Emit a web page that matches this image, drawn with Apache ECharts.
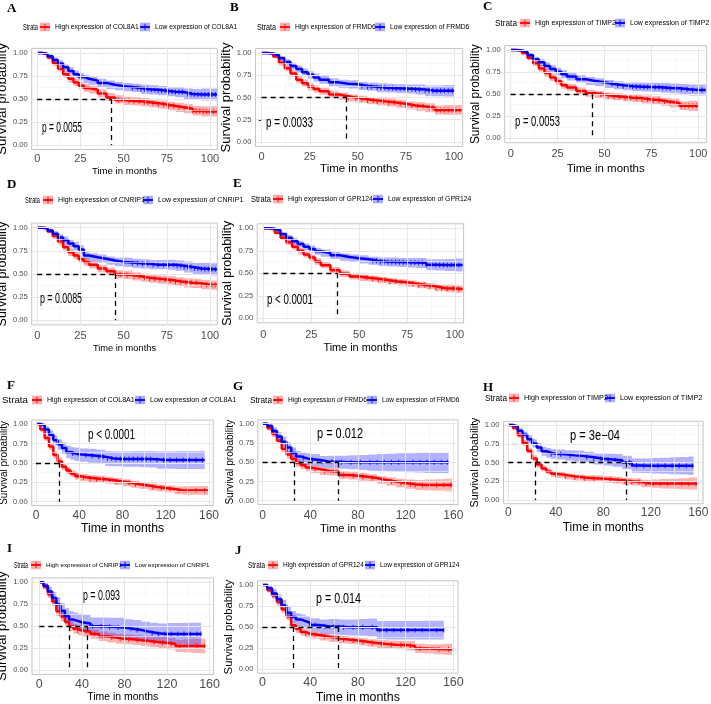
<!DOCTYPE html>
<html><head><meta charset="utf-8">
<script src="https://cdn.jsdelivr.net/npm/echarts@6/dist/echarts.min.js"></script>
<style>html,body{margin:0;padding:0;background:#fff}#c{width:711px;height:704px}</style>
</head><body><div id="c"></div>
<script>
// ================= DATA =================
const X_TICKS_TRAIN = [0,25,50,75,100];
const X_MINOR_TRAIN = [12.5,37.5,62.5,87.5];
const X_TICKS_VALID = [0,40,80,120,160];
const X_MINOR_VALID = [20,60,100,140];
const Y_TICKS = [0,0.25,0.5,0.75,1];
const Y_MINOR = [0.125,0.375,0.625,0.875];

const GENES = ['COL8A1','FRMD6','TIMP2','CNRIP1','GPR124','COL8A1','FRMD6','TIMP2','CNRIP1','GPR124'];
const P_VALUES = ['p = 0.0055','p = 0.0033','p = 0.0053','p = 0.0085','p < 0.0001','p < 0.0001','p = 0.012','p = 3e\u221204','p = 0.093','p = 0.014'];

const T_TRAIN = [0,3,6,9,12,15,18,21,24,27,30,35,40,45,50,55,60,65,70,75,80,85,90,95,100,104];
const T_VALID = [0,4,8,12,16,20,24,28,32,36,40,48,56,64,72,80,88,96,104,112,120,128,136,144,152,156,159];

// Panel A
const A_high    = [1,.99,.95,.89,.83,.77,.72,.68,.645,.62,.60,.56,.515,.49,.48,.475,.465,.455,.44,.425,.41,.395,.37,.365,.365,.365];
const A_high_lo = [1,.98,.93,.86,.80,.735,.68,.64,.605,.58,.56,.52,.475,.45,.435,.43,.42,.41,.395,.38,.36,.345,.32,.31,.31,.31];
const A_high_hi = [1,1,.97,.92,.865,.81,.76,.72,.69,.665,.645,.605,.565,.54,.525,.52,.51,.50,.485,.47,.46,.445,.425,.42,.42,.42];
const A_low     = [1,.99,.965,.925,.885,.845,.805,.77,.74,.72,.70,.675,.655,.64,.63,.62,.605,.60,.59,.58,.575,.555,.55,.55,.55,.55];
const A_low_lo  = [1,.98,.945,.895,.85,.81,.765,.73,.70,.675,.655,.63,.61,.595,.585,.575,.555,.55,.54,.53,.52,.495,.49,.485,.485,.485];
const A_low_hi  = [1,1,.985,.955,.92,.88,.845,.81,.78,.76,.745,.72,.70,.685,.675,.665,.655,.65,.64,.63,.63,.615,.61,.615,.615,.615];
const A_cens_high = [47,50,53,56,59,62,64,67,70,73,76,79,82,85,88,90,92,94,96,98,100,102];
const A_cens_low  = [55,58,60,62,64,66,68,70,72,74,76,78,80,82,84,87,89,91,93,95,97,99,101,103];
const A_median = [43];

// Panel B
const B_high    = [1,.995,.96,.89,.83,.77,.70,.66,.62,.595,.57,.535,.515,.495,.48,.465,.455,.445,.43,.41,.40,.385,.36,.36,.36,.36];
const B_high_lo = [1,.985,.94,.86,.795,.735,.66,.62,.58,.555,.53,.495,.475,.455,.44,.425,.41,.40,.385,.365,.35,.335,.31,.305,.305,.305];
const B_high_hi = [1,1,.98,.92,.865,.81,.74,.70,.66,.635,.61,.575,.555,.535,.52,.505,.50,.49,.475,.455,.45,.435,.41,.415,.415,.415];
const B_low     = [1,.995,.975,.94,.90,.855,.82,.785,.755,.725,.70,.67,.655,.648,.63,.62,.61,.605,.60,.595,.59,.575,.575,.575,.575,null];
const B_low_lo  = [1,.985,.955,.91,.865,.815,.78,.74,.71,.68,.655,.625,.61,.60,.585,.575,.56,.555,.55,.545,.535,.515,.515,.51,.51,null];
const B_low_hi  = [1,1,.99,.965,.93,.89,.86,.825,.795,.77,.745,.715,.70,.695,.675,.665,.66,.655,.65,.645,.645,.635,.635,.64,.64,null];
const B_cens_high = [45,49,52,55,58,60,63,66,69,72,75,78,81,84,87,89,91,93,95,97,99,101,103];
const B_cens_low  = [52,55,57,60,62,64,66,68,70,72,74,76,78,80,82,85,87,89,91,93,95,97,99];
const B_median = [44.2];

// Panel C
const C_high    = [1,.995,.965,.91,.85,.79,.74,.69,.645,.60,.575,.535,.51,.495,.48,.47,.46,.455,.44,.43,.415,.40,.37,.37,.37,null];
const C_high_lo = [1,.985,.945,.88,.815,.755,.70,.65,.605,.56,.535,.495,.47,.455,.44,.43,.42,.41,.395,.385,.37,.35,.32,.31,.31,null];
const C_high_hi = [1,1,.985,.94,.885,.83,.78,.73,.685,.64,.615,.575,.55,.535,.52,.51,.50,.50,.485,.475,.46,.45,.42,.425,.425,null];
const C_low     = [1,.995,.975,.94,.895,.86,.82,.785,.755,.725,.70,.67,.65,.635,.615,.60,.59,.585,.58,.577,.57,.566,.555,.547,.547,.547];
const C_low_lo  = [1,.985,.955,.91,.86,.82,.775,.74,.71,.68,.655,.625,.605,.59,.57,.555,.545,.535,.53,.525,.515,.51,.495,.485,.485,.485];
const C_low_hi  = [1,1,.99,.965,.925,.895,.86,.825,.80,.77,.745,.715,.695,.68,.66,.645,.635,.635,.63,.63,.625,.62,.615,.61,.61,.61];
const C_cens_high = [48,52,55,58,61,64,67,70,73,76,79,82,85,88,91,93,95,97,99];
const C_cens_low  = [54,57,60,63,65,67,69,71,73,75,77,79,81,83,85,88,91,94,97,100,102];
const C_median = [43.5];

// Panel D
const D_high    = [1,.995,.96,.91,.85,.79,.735,.70,.66,.63,.60,.56,.53,.495,.49,.475,.46,.45,.44,.43,.415,.405,.40,.385,.38,.38];
const D_high_lo = [1,.985,.94,.88,.815,.755,.695,.66,.62,.59,.56,.52,.49,.455,.445,.43,.415,.405,.395,.385,.37,.355,.35,.335,.33,.33];
const D_high_hi = [1,1,.98,.94,.885,.83,.775,.74,.70,.67,.64,.60,.57,.54,.535,.52,.505,.495,.485,.475,.465,.455,.45,.435,.43,.43];
const D_low     = [1,.995,.97,.935,.895,.865,.83,.80,.765,.70,.68,.665,.645,.63,.625,.615,.61,.60,.60,.60,.59,.575,.56,.555,.55,.55];
const D_low_lo  = [1,.985,.95,.905,.86,.825,.79,.755,.72,.655,.635,.62,.60,.585,.575,.565,.56,.55,.55,.545,.535,.515,.50,.49,.485,.485];
const D_low_hi  = [1,1,.99,.965,.93,.905,.87,.845,.81,.745,.725,.71,.69,.675,.675,.665,.66,.65,.65,.655,.645,.635,.62,.62,.615,.615];
const D_cens_high = [48,52,56,59,62,65,68,71,74,77,80,83,86,89,92,95,98,101,103];
const D_cens_low  = [55,58,61,64,67,70,73,76,79,81,83,85,87,89,91,93,95,97,99,101,103];
const D_median = [45];

// Panel E
const E_high    = [1,.99,.95,.895,.845,.795,.75,.71,.675,.63,.59,.535,.495,.465,.45,.44,.425,.41,.40,.385,.37,.355,.335,.33,.325,.325];
const E_high_lo = [1,.98,.93,.87,.815,.765,.715,.675,.64,.595,.555,.50,.46,.43,.415,.405,.39,.375,.365,.35,.335,.32,.30,.29,.285,.285];
const E_high_hi = [1,1,.97,.92,.875,.83,.785,.745,.71,.665,.625,.57,.53,.50,.485,.475,.46,.445,.435,.42,.405,.39,.37,.37,.365,.365];
const E_low     = [1,.995,.975,.935,.895,.855,.825,.795,.77,.745,.725,.70,.68,.667,.655,.64,.628,.625,.622,.62,.618,.595,.593,.593,.593,.593];
const E_low_lo  = [1,.985,.955,.91,.865,.82,.79,.755,.73,.705,.685,.66,.64,.625,.61,.595,.58,.575,.57,.565,.56,.535,.53,.525,.52,.52];
const E_low_hi  = [1,1,.99,.96,.925,.89,.86,.83,.81,.785,.765,.74,.72,.71,.70,.685,.675,.675,.67,.67,.67,.655,.655,.66,.665,.665];
const E_cens_high = [50,54,57,60,63,66,69,72,75,78,81,84,87,90,93,96,99,102];
const E_cens_low  = [57,59,61,63,65,67,69,71,73,75,77,79,81,83,85,88,90,92,94,96,98,100,102];
const E_median = [38.6];

// Panel F
const F_high    = [1,.93,.82,.71,.60,.52,.45,.40,.36,.33,.31,.30,.29,.275,.26,.245,.225,.21,.19,.175,.165,.145,.145,.145,.145,.145,.145];
const F_high_lo = [1,.90,.78,.665,.555,.475,.405,.355,.315,.285,.265,.255,.245,.23,.215,.20,.18,.165,.145,.13,.12,.095,.09,.09,.09,.085,.085];
const F_high_hi = [1,.96,.86,.755,.645,.565,.495,.445,.405,.375,.355,.345,.335,.32,.305,.29,.27,.255,.235,.22,.21,.195,.20,.20,.205,.205,.205];
const F_low     = [1,.985,.93,.86,.79,.735,.69,.64,.62,.61,.60,.59,.58,.555,.55,.55,.55,.55,.545,.536,.536,.536,.536,.536,.536,.536,null];
const F_low_lo  = [1,.96,.885,.80,.725,.665,.615,.56,.54,.525,.515,.50,.49,.46,.455,.45,.45,.445,.44,.425,.425,.42,.42,.42,.42,.42,null];
const F_low_hi  = [1,1,.97,.915,.855,.805,.765,.72,.70,.695,.685,.68,.67,.65,.645,.645,.65,.65,.65,.645,.645,.65,.65,.65,.655,.655,null];
const F_cens_high = [30,38,44,50,56,62,68,74,80,86,92,100,108,116,124,132,140,148,156];
const F_cens_low  = [34,40,46,52,58,62,66,70,74,78,82,86,90,94,98,102,106,112,118,124,130,136,142,148,154];
const F_median = [21.5];

// Panel G
const G_high    = [1,.94,.865,.78,.675,.60,.54,.49,.46,.43,.41,.385,.375,.335,.325,.31,.295,.27,.25,.23,.215,.205,.205,.205,.205,.205,.205];
const G_high_lo = [1,.91,.825,.735,.63,.55,.49,.44,.41,.38,.36,.335,.325,.285,.275,.26,.245,.22,.195,.175,.155,.14,.13,.125,.12,.12,.12];
const G_high_hi = [1,.97,.905,.825,.72,.65,.59,.54,.51,.48,.46,.435,.425,.385,.375,.36,.345,.32,.305,.285,.275,.27,.275,.28,.285,.285,.285];
const G_low     = [1,.97,.905,.835,.765,.69,.62,.575,.555,.54,.53,.505,.505,.50,.50,.50,.50,.50,.50,.50,.50,.50,.50,.50,.50,.50,null];
const G_low_lo  = [1,.94,.86,.78,.70,.62,.55,.50,.48,.465,.455,.43,.425,.415,.41,.40,.39,.385,.38,.375,.37,.365,.36,.36,.355,.355,null];
const G_low_hi  = [1,1,.95,.89,.83,.76,.69,.65,.63,.615,.605,.58,.585,.585,.59,.595,.60,.605,.61,.615,.615,.62,.62,.62,.62,.62,null];
const G_cens_high = [44,52,60,68,76,84,92,100,108,116,124,128,134,140,146,152,158];
const G_cens_low  = [34,42,50,58,66,74,82,90,96,102,108,114,120,126,132,138,144,150,155];
const G_median = [26.6,63.5];

// Panel H
const H_high    = [1,.96,.865,.76,.655,.555,.475,.42,.38,.35,.335,.315,.30,.29,.285,.275,.265,.25,.24,.22,.22,.22,.22,.22,.22,.22,.22];
const H_high_lo = [1,.93,.83,.72,.615,.515,.435,.38,.34,.31,.295,.275,.26,.25,.24,.23,.22,.205,.195,.17,.165,.155,.15,.145,.14,.14,.14];
const H_high_hi = [1,.985,.90,.80,.695,.595,.515,.46,.42,.39,.375,.355,.34,.33,.33,.32,.31,.295,.29,.27,.275,.28,.285,.29,.30,.30,.30];
const H_low     = [1,.98,.925,.87,.81,.755,.70,.65,.63,.615,.61,.595,.585,.57,.55,.54,.53,.50,.46,.458,.458,.458,.458,.458,.458,.458,null];
const H_low_lo  = [1,.955,.89,.825,.76,.70,.64,.59,.565,.55,.54,.525,.51,.495,.475,.46,.445,.41,.365,.36,.355,.35,.345,.34,.335,.335,null];
const H_low_hi  = [1,1,.96,.915,.86,.81,.76,.71,.695,.68,.675,.665,.66,.645,.625,.62,.615,.59,.555,.555,.56,.565,.57,.575,.58,.585,null];
const H_cens_high = [40,48,56,64,72,80,86,92,98,104,110,116,122,128,134,140,146,152,158];
const H_cens_low  = [36,44,52,60,66,72,78,84,90,102,108,114,120,126,132,138,144,150,155];
const H_median = [22.5,99];

// Panel I
const I_high    = [1,.95,.865,.78,.67,.61,.55,.50,.47,.45,.435,.41,.385,.37,.355,.35,.34,.33,.32,.31,.30,.275,.275,.275,.275,.275,null];
const I_high_lo = [1,.92,.82,.73,.615,.555,.495,.445,.415,.395,.38,.355,.33,.315,.30,.295,.285,.27,.26,.245,.235,.205,.20,.195,.19,.19,null];
const I_high_hi = [1,.98,.91,.83,.725,.665,.605,.555,.525,.505,.49,.465,.44,.425,.41,.405,.395,.39,.38,.375,.365,.345,.35,.355,.36,.36,null];
const I_low     = [1,.96,.895,.82,.75,.675,.615,.575,.56,.545,.53,.50,.495,.49,.485,.47,.455,.435,.42,.41,.41,.41,.41,.41,.41,null,null];
const I_low_lo  = [1,.92,.84,.75,.67,.59,.525,.48,.46,.445,.43,.40,.39,.385,.375,.36,.34,.32,.305,.295,.29,.29,.285,.285,.285,null,null];
const I_low_hi  = [1,1,.95,.89,.83,.76,.705,.67,.655,.64,.63,.60,.60,.595,.595,.58,.57,.55,.54,.53,.535,.535,.54,.54,.54,null,null];
const I_cens_high = [36,44,52,60,68,76,84,92,100,108,116,124,132,140,148,155];
const I_cens_low  = [40,50,58,66,74,80,86,92,100,106,112,118,124,130,136,142,148,152];
const I_median = [28,45.5];

// Panel J
const J_high    = [1,.94,.875,.80,.71,.625,.52,.475,.44,.42,.405,.385,.365,.35,.34,.325,.31,.298,.29,.286,.275,.245,.24,.235,.234,.234,.234];
const J_high_lo = [1,.91,.835,.755,.665,.58,.475,.43,.395,.375,.36,.34,.32,.305,.295,.28,.265,.25,.24,.235,.22,.19,.185,.175,.17,.17,.17];
const J_high_hi = [1,.97,.915,.845,.755,.67,.565,.52,.485,.465,.45,.43,.41,.395,.385,.37,.355,.345,.34,.335,.33,.30,.295,.295,.30,.30,.30];
const J_low     = [1,.96,.90,.83,.755,.67,.62,.59,.57,.55,.525,.505,.505,.496,.496,.496,.496,.464,.464,.464,.464,.464,.464,.464,.464,null,null];
const J_low_lo  = [1,.92,.85,.77,.69,.60,.55,.515,.49,.47,.445,.42,.415,.405,.40,.395,.39,.355,.35,.35,.35,.35,.35,.35,.35,null,null];
const J_low_hi  = [1,1,.95,.89,.82,.74,.69,.665,.65,.63,.605,.59,.595,.59,.59,.595,.60,.57,.57,.57,.57,.57,.575,.575,.575,null,null];
const J_cens_high = [36,44,52,60,68,76,84,92,100,108,116,124,132,140,148,156];
const J_cens_low  = [44,52,60,68,76,84,92,98,104,110,116,122,128,134,140,146,152];
const J_median = [25.4,63.7];

// ================= LAYOUT =================
const FN = "'Liberation Sans',Arial,sans-serif";
const FR = "'Liberation Sans',Arial,sans-serif";
const FS = "'Liberation Serif','Times New Roman',serif";
const RED = '#FF0000', BLUE = '#0000FF';

const PANELS = [
 {k:'A',T:T_TRAIN,h:[A_high,A_high_lo,A_high_hi],l:[A_low,A_low_lo,A_low_hi],ch:A_cens_high,cl:A_cens_low,med:A_median,
  g:[31.7,48.4,217.3,149.6],x:[-3.2,104.2],xt:X_TICKS_TRAIN,xm:X_MINOR_TRAIN,
  letter:[7,9],strata:[23,27,15],legY:27,red:40,blue:140,legW:82,pp:[42,128,40],
  yNC:7.5,yNW:112,xNC:171,xNW:57,xLC:158.5,xLF:11},
 {k:'B',T:T_TRAIN,h:[B_high,B_high_lo,B_high_hi],l:[B_low,B_low_lo,B_low_hi],ch:B_cens_high,cl:B_cens_low,med:B_median,
  g:[255.5,48.55,462.7,146.45],x:[-3.2,104.5],xt:X_TICKS_TRAIN,xm:X_MINOR_TRAIN,
  letter:[230,8],strata:[257,27,19],legY:27,red:280,blue:375,legW:79,pp:[266,123,47],
  yNC:231,yNW:110,xNC:169,xNW:70,xLC:157,xLF:11},
 {k:'C',T:T_TRAIN,h:[C_high,C_high_lo,C_high_hi],l:[C_low,C_low_lo,C_low_hi],ch:C_cens_high,cl:C_cens_low,med:C_median,
  g:[504.7,45.6,706.7,142.7],x:[-3.2,104.5],xt:X_TICKS_TRAIN,xm:X_MINOR_TRAIN,
  letter:[483,7],strata:[495,23,22],legY:23,red:520,blue:615,legW:79,pp:[515,122,45],
  yNC:476.7,yNW:100,xNC:169.3,xNW:70,xLC:154,xLF:11},
 {k:'D',T:T_TRAIN,h:[D_high,D_high_lo,D_high_hi],l:[D_low,D_low_lo,D_low_hi],ch:D_cens_high,cl:D_cens_low,med:D_median,
  g:[31.7,223.1,217.3,324.9],x:[-3.2,104.2],xt:X_TICKS_TRAIN,xm:X_MINOR_TRAIN,
  letter:[7,184.5],strata:[25,200,15],legY:200,red:43,blue:143,legW:85,pp:[40,299,42],
  yNC:7.5,yNW:105,xNC:349,xNW:55,xLC:336,xLF:11},
 {k:'E',T:T_TRAIN,h:[E_high,E_high_lo,E_high_hi],l:[E_low,E_low_lo,E_low_hi],ch:E_cens_high,cl:E_cens_low,med:E_median,
  g:[257.2,223.8,463.6,322.8],x:[-3.2,104.5],xt:X_TICKS_TRAIN,xm:X_MINOR_TRAIN,
  letter:[233,183.5],strata:[251,199,20],legY:199,red:273,blue:373,legW:83,pp:[267,300,46],
  yNC:232,yNW:105,xNC:348,xNW:66,xLC:335,xLF:11},
 {k:'F',T:T_VALID,h:[F_high,F_high_lo,F_high_hi],l:[F_low,F_low_lo,F_low_hi],ch:F_cens_high,cl:F_cens_low,med:F_median,
  g:[31.7,420.1,213.3,505.6],x:[-4,164],xt:X_TICKS_VALID,xm:X_MINOR_VALID,
  letter:[7,386],strata:[2,400,26],legY:400,red:32,blue:135,legW:86,pp:[88,435,47],
  yNC:6.5,yNW:84,xNC:528,xNW:75,xLC:516,xLF:12},
 {k:'G',T:T_VALID,h:[G_high,G_high_lo,G_high_hi],l:[G_low,G_low_lo,G_low_hi],ch:G_cens_high,cl:G_cens_low,med:G_median,
  g:[257.9,419.85,458.1,504.55],x:[-4,164],xt:X_TICKS_VALID,xm:X_MINOR_VALID,
  letter:[233,386.5],strata:[250,400,22],legY:400,red:273,blue:367,legW:77,pp:[317,434,46],
  yNC:234,yNW:85,xNC:529,xNW:68,xLC:516,xLF:12},
 {k:'H',T:T_VALID,h:[H_high,H_high_lo,H_high_hi],l:[H_low,H_low_lo,H_low_hi],ch:H_cens_high,cl:H_cens_low,med:H_median,
  g:[503.55,421.25,703.05,503.75],x:[-4,164],xt:X_TICKS_VALID,xm:X_MINOR_VALID,
  letter:[483,387.5],strata:[485,398,22],legY:398,red:509,blue:605,legW:82,pp:[570,436,50],
  yNC:476,yNW:90,xNC:528,xNW:73,xLC:513,xLF:12},
 {k:'I',T:T_VALID,h:[I_high,I_high_lo,I_high_hi],l:[I_low,I_low_lo,I_low_hi],ch:I_cens_high,cl:I_cens_low,med:I_median,
  g:[32,577.9,213.6,674.4],x:[-6.9,163.8],xt:X_TICKS_VALID,xm:X_MINOR_VALID,
  letter:[7,549],strata:[14,565,14],legY:565,red:31,blue:120,legW:74,pp:[83,596,37],
  yNC:6,yNW:110,xNC:697.5,xNW:63,xLC:684,xLF:12.5},
 {k:'J',T:T_VALID,h:[J_high,J_high_lo,J_high_hi],l:[J_low,J_low_lo,J_low_hi],ch:J_cens_high,cl:J_cens_low,med:J_median,
  g:[257.5,580.8,458.1,673.2],x:[-4.2,164],xt:X_TICKS_VALID,xm:X_MINOR_VALID,
  letter:[235,551],strata:[248,565,17],legY:565,red:268,blue:365,legW:79,pp:[316,599,45],
  yNC:231,yNW:95,xNC:697.5,xNW:76,xLC:682,xLF:12.5}
];

// ================= HELPERS =================
const mctx = document.createElement('canvas').getContext('2d');
function measure(text, family, weight){ mctx.font = (weight||'') + ' 100px ' + family; return mctx.measureText(text).width / 100; }
function fitSize(text, family, target, weight){ return target / measure(text, family, weight); }

function iconFor(col){
  const svg = '<svg xmlns="http://www.w3.org/2000/svg" width="22" height="20">' +
    '<rect width="22" height="20" fill="' + col + '" fill-opacity="0.32"/>' +
    '<rect y="8" width="22" height="4" fill="' + col + '"/>' +
    '<rect x="10" y="3" width="2" height="14" fill="' + col + '"/></svg>';
  return 'image://data:image/svg+xml;charset=utf-8,' + encodeURIComponent(svg);
}

function pts(T, s){ const out=[]; const n=Math.min(T.length,s.length); for(let i=0;i<n;i++){ if(s[i]!=null) out.push([T[i], s[i]]); } return out; }

function censorPts(T, s, times){
  const line = pts(T, s); const out=[];
  if(!line.length) return out;
  const tEnd = line[line.length-1][0];
  times.forEach(t=>{ if(t>tEnd) return; let v=null; for(const p of line){ if(p[0]<=t) v=p[1]; } if(v!=null) out.push([t,v]); });
  return out;
}

function bandSeries(gi, T, lo, hi, color){
  const data=[]; const n=Math.min(T.length,lo.length,hi.length);
  for(let i=0;i<n;i++){ if(lo[i]!=null && hi[i]!=null) data.push([T[i], lo[i], hi[i]]); }
  return {
    type:'custom', xAxisIndex:gi, yAxisIndex:gi, silent:true, z:2, clip:true, data,
    renderItem(params, api){
      if(params.dataIndexInside !== 0) return null;
      const up=[], dn=[];
      for(let i=0;i<data.length;i++){
        const t=data[i][0], l=data[i][1], h=data[i][2];
        if(i>0){ up.push(api.coord([t, data[i-1][2]])); dn.push(api.coord([t, data[i-1][1]])); }
        up.push(api.coord([t,h])); dn.push(api.coord([t,l]));
      }
      return {type:'polygon', shape:{points: up.concat(dn.reverse())}, style:{fill: color, opacity: 0.3}};
    }
  };
}

// ================= BUILD =================
const grids=[], xAxes=[], yAxes=[], series=[], legends=[], graphics=[];
const yLabFS = 7.6;

PANELS.forEach((p, i)=>{
  const gene = GENES[i];
  const [L,Tp,R,B] = p.g;
  grids.push({left:L, top:Tp, width:R-L, height:B-Tp, show:true, borderColor:'#c4c4c4', borderWidth:1,
              backgroundColor:'#ffffff', containLabel:false, outerBoundsMode:'none'});
  const xNameFS = fitSize('Time in months', FN, p.xNW) + 1.2;
  const yNameFS = fitSize('Survival probability', FR, p.yNW);
  xAxes.push({gridIndex:i, type:'value', min:p.x[0], max:p.x[1],
    axisLine:{show:false}, splitLine:{show:false},
    axisTick:{show:true, length:3, lineStyle:{color:'#333333', width:1}, customValues:p.xt},
    axisLabel:{customValues:p.xt, margin: p.xLC - B - p.xLF/2, fontSize:p.xLF, color:'#4d4d4d', fontFamily:FR},
    name:'Time in months', nameLocation:'middle', nameGap: p.xNC - B - xNameFS/2,
    nameTextStyle:{fontSize:xNameFS, color:'#000', fontFamily:FN}});
  yAxes.push({gridIndex:i, type:'value', min:-0.05, max:1.05,
    axisLine:{show:false}, splitLine:{show:false},
    axisTick:{show:true, length:3, lineStyle:{color:'#333333', width:1}, customValues:Y_TICKS},
    axisLabel:{customValues:Y_TICKS, margin:4, fontSize:yLabFS, color:'#4d4d4d', fontFamily:FN, formatter:v=>v.toFixed(2)},
    name:'Survival probability', nameLocation:'middle', nameGap: L - p.yNC - yNameFS/2,
    nameTextStyle:{fontSize:yNameFS, color:'#000', fontFamily:FR}});

  // grid lines
  const gl = [];
  p.xt.forEach(v=>gl.push({xAxis:v, lineStyle:{color:'#e6e6e6', width:1, type:'solid'}}));
  p.xm.forEach(v=>gl.push({xAxis:v, lineStyle:{color:'#f1f1f1', width:0.6, type:'solid'}}));
  Y_TICKS.forEach(v=>gl.push({yAxis:v, lineStyle:{color:'#e6e6e6', width:1, type:'solid'}}));
  Y_MINOR.forEach(v=>gl.push({yAxis:v, lineStyle:{color:'#f1f1f1', width:0.6, type:'solid'}}));
  series.push({type:'line', name:'grid'+p.k, xAxisIndex:i, yAxisIndex:i, data:[], silent:true, z:1,
    markLine:{silent:true, symbol:['none','none'], label:{show:false}, animation:false, data:gl}});

  const nameH = 'High expression of ' + gene, nameL = 'Low expression of ' + gene;
  series.push(bandSeries(i, p.T, p.h[1], p.h[2], RED));
  series.push(bandSeries(i, p.T, p.l[1], p.l[2], BLUE));

  const medMax = Math.max(...p.med);
  const ml = [[{coord:[0,0.5]},{coord:[medMax,0.5]}]];
  p.med.forEach(m=>ml.push([{coord:[m,0.5]},{coord:[m,0]}]));

  series.push({type:'line', name:nameH, xAxisIndex:i, yAxisIndex:i, data:pts(p.T,p.h[0]), step:'end',
    symbol:'none', showSymbol:false, silent:true, z:3, lineStyle:{color:RED, width:2.5}, itemStyle:{color:RED},
    markLine:{silent:true, symbol:['none','none'], label:{show:false}, animation:false,
      lineStyle:{color:'#000', width:1.3, type:[5,4]}, data:ml}});
  series.push({type:'line', name:nameL, xAxisIndex:i, yAxisIndex:i, data:pts(p.T,p.l[0]), step:'end',
    symbol:'none', showSymbol:false, silent:true, z:3, lineStyle:{color:BLUE, width:2.5}, itemStyle:{color:BLUE}});
  series.push({type:'scatter', xAxisIndex:i, yAxisIndex:i, data:censorPts(p.T,p.h[0],p.ch), symbol:'rect',
    symbolSize:[1.1,5], silent:true, z:4, itemStyle:{color:RED}});
  series.push({type:'scatter', xAxisIndex:i, yAxisIndex:i, data:censorPts(p.T,p.l[0],p.cl), symbol:'rect',
    symbolSize:[1.1,5], silent:true, z:4, itemStyle:{color:BLUE}});

  // legends
  const legFS = fitSize(nameH, FN, p.legW + 2);
  [[p.red, nameH, RED],[p.blue, nameL, BLUE]].forEach(([lx, nm, col])=>{
    legends.push({left:lx, top:p.legY-5, padding:0, itemWidth:10, itemHeight:10, selectedMode:false,
      data:[{name:nm, icon:iconFor(col)}], textStyle:{fontSize:legFS, color:'#000', fontFamily:FN}});
  });

  // Strata label
  const stFS = 9.5;
  graphics.push({type:'text', x:p.strata[0], y:p.strata[1], silent:true, z:100,
    scaleX: p.strata[2] / (measure('Strata', FR) * stFS),
    style:{text:'Strata', font: stFS + 'px ' + FR, fill:'#000', align:'left', verticalAlign:'middle'}});
  // Panel letter
  graphics.push({type:'text', x:p.letter[0], y:p.letter[1], silent:true, z:100,
    style:{text:p.k, font:'bold 13px ' + FS, fill:'#000', align:'left', verticalAlign:'middle'}});
  // p-value
  const pFS = 14;
  graphics.push({type:'text', x:p.pp[0], y:p.pp[1], silent:true, z:100,
    scaleX: p.pp[2] / (measure(P_VALUES[i], FR) * pFS),
    style:{text:P_VALUES[i], font: pFS + 'px ' + FR, fill:'#000', align:'left', verticalAlign:'middle'}});
});

const chart = echarts.init(document.getElementById('c'), null, {renderer:'canvas'});
chart.setOption({animation:false, backgroundColor:'#ffffff', grid:grids, xAxis:xAxes, yAxis:yAxes,
  legend:legends, series, graphic:graphics});
</script>
</body></html>
